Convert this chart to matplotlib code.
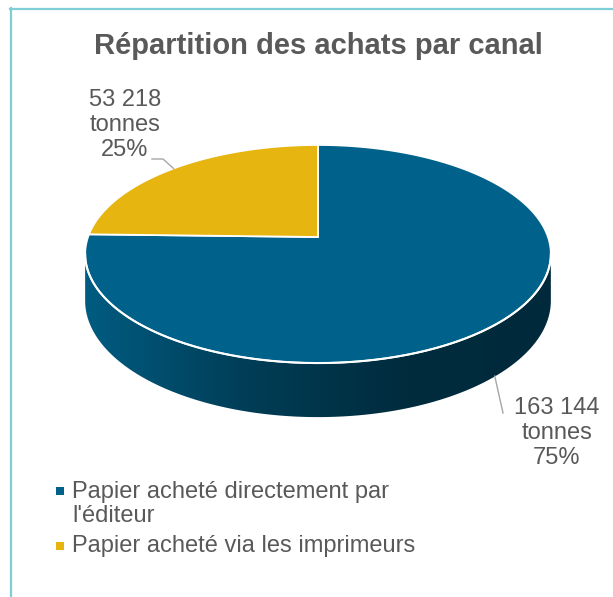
import numpy as np
import matplotlib
matplotlib.use("Agg")
import matplotlib.pyplot as plt
from matplotlib.lines import Line2D
from matplotlib.patches import Polygon
from matplotlib.transforms import IdentityTransform

titre = "Répartition des achats par canal"
canaux = ["Papier acheté directement par\nl'éditeur", "Papier acheté via les imprimeurs"]
tonnes = [163144, 53218]
couleurs = ["#00628a", "#e6b510"]

plt.rcParams['font.family'] = ['Liberation Sans', 'DejaVu Sans']
gris = "#595959"

fig = plt.figure(figsize=(6.13, 5.97), dpi=100)
ax = fig.add_axes([0, 0, 1, 1])
ax.axis('off')

# geometrie du camembert 3D en perspective (pixels)
cx, cy = 318, 237
A, B, k, D = 230, 106.4, 0.156, 45.6


def proj(t, z=0.0):
    u, v = np.cos(t), np.sin(t)
    w = 1 + k * v
    return cx + A * u / w, cy - B * v / w + z * D / w


total = sum(tonnes)
fracs = np.array(tonnes) / total
cumul = np.cumsum(fracs)
bornes = np.pi / 2 - 2 * np.pi * np.concatenate([[0], cumul])


def tranche(t):
    s = ((np.pi / 2 - t) % (2 * np.pi)) / (2 * np.pi)
    return int(min(np.searchsorted(cumul, s), len(tonnes) - 1))


# cote visible (face avant), degrade de gauche a droite
t_g = np.pi + np.arcsin(k)
t_d = 2 * np.pi - np.arcsin(k)
ts = np.linspace(t_g, t_d, 400)
idx = np.array([tranche(t) for t in ts])
coupes = np.r_[0, np.nonzero(np.diff(idx))[0] + 1, len(ts)]
gx = np.linspace(60, 580, 400)
fac = np.interp(gx, [88, 250, 400, 552], [0.93, 0.62, 0.45, 0.43])
for a, b in zip(coupes[:-1], coupes[1:]):
    seg = ts[a:min(b + 1, len(ts))]
    xt, yt = proj(seg)
    xb, yb = proj(seg[::-1], 1)
    poly = Polygon(np.c_[np.r_[xt, xb], np.r_[yt, yb]], closed=True, fc="none", ec="none")
    ax.add_patch(poly)
    base = np.array(matplotlib.colors.to_rgb(couleurs[idx[a]]))
    img = (fac[:, None] * base[None, :])[None, :, :]
    im = ax.imshow(img, extent=(60, 580, 440, 230), aspect="auto", interpolation="bilinear", zorder=1)
    im.set_clip_path(poly)

# face superieure
for i in range(len(tonnes)):
    tt = np.linspace(bornes[i], bornes[i + 1], 200)
    xs, ys = proj(tt)
    ax.fill(np.r_[cx, xs], np.r_[cy, ys], color=couleurs[i], ec="white", lw=1.3, zorder=2)

xr, yr = proj(np.linspace(t_g, t_d, 200))
ax.plot(xr, yr, color="white", lw=1.5, zorder=3)

# etiquettes
def etiquette(v, f):
    return f"{v:,}".replace(",", " ") + "\ntonnes\n" + f"{f * 100:.0f}%"

m1 = (bornes[1] + bornes[2]) / 2
xa, ya = proj(m1)
ax.plot([xa, 163, 152], [ya, 159, 159], color="#a6a6a6", lw=1, zorder=4)
ax.text(125, 125, etiquette(tonnes[1], fracs[1]), ha="center", va="center",
        fontsize=17, color=gris, linespacing=1.15)

m0 = (bornes[0] + bornes[1]) / 2
xa, ya = proj(m0, 1)
ax.plot([xa - 4, 503], [ya + 2, 413], color="#a6a6a6", lw=1, zorder=4)
ax.text(557, 433, etiquette(tonnes[0], fracs[0]), ha="center", va="center",
        fontsize=17, color=gris, linespacing=1.15)

ax.text(318.5, 46, titre, ha="center", va="center", fontsize=21,
        fontweight="bold", color=gris)

# legende
ax.scatter([60, 60], [491, 546], marker="s", s=30, c=couleurs, lw=0)
ax.text(72, 504, canaux[0], ha="left", va="center", fontsize=17, color=gris, linespacing=1.12)
ax.text(72, 546, canaux[1], ha="left", va="center", fontsize=17, color=gris)

ax.set_xlim(0, 613)
ax.set_ylim(597, 0)

# cadre
cadre = "#7fcdd6"
fig.add_artist(Line2D([11, 11], [0, 589], transform=IdentityTransform(), color=cadre, lw=1.6))
fig.add_artist(Line2D([10, 613], [588.5, 588.5], transform=IdentityTransform(), color=cadre, lw=1.6))

fig.savefig("out.png", dpi=100)
